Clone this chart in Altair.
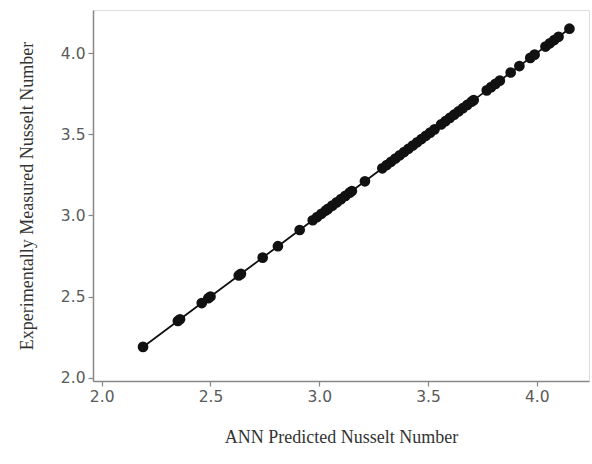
import altair as alt
import pandas as pd

ann_predicted = [2.19, 2.35, 2.36, 2.46, 2.49, 2.50, 2.63, 2.64, 2.74, 2.81,
                 2.91, 2.97, 2.99, 3.01, 3.03, 3.04, 3.06, 3.08, 3.10, 3.12,
                 3.14, 3.15, 3.21, 3.29, 3.31, 3.33, 3.35, 3.37, 3.39, 3.41,
                 3.43, 3.45, 3.47, 3.49, 3.51, 3.53, 3.56, 3.58, 3.60, 3.62,
                 3.64, 3.66, 3.68, 3.70, 3.71, 3.77, 3.79, 3.81, 3.83, 3.88,
                 3.92, 3.97, 3.99, 4.04, 4.06, 4.08, 4.10, 4.15]
measured = [2.19, 2.35, 2.36, 2.46, 2.49, 2.50, 2.63, 2.64, 2.74, 2.81,
            2.91, 2.97, 2.99, 3.01, 3.03, 3.04, 3.06, 3.08, 3.10, 3.12,
            3.14, 3.15, 3.21, 3.29, 3.31, 3.33, 3.35, 3.37, 3.39, 3.41,
            3.43, 3.45, 3.47, 3.49, 3.51, 3.53, 3.56, 3.58, 3.60, 3.62,
            3.64, 3.66, 3.68, 3.70, 3.71, 3.77, 3.79, 3.81, 3.83, 3.88,
            3.92, 3.97, 3.99, 4.04, 4.06, 4.08, 4.10, 4.15]
tick_values = [2.0, 2.5, 3.0, 3.5, 4.0]

df = pd.DataFrame({"pred": ann_predicted, "meas": measured})

common_axis = dict(values=tick_values, format=".1f", grid=False,
                   titleFont="Liberation Serif", titleFontSize=18,
                   titleFontWeight="normal", titleColor="#333333",
                   labelFont="DejaVu Sans", labelFontSize=15.5,
                   labelColor="#5a5a5a", domainColor="#888888",
                   tickColor="#888888", tickSize=5, labelPadding=3,
                   domainWidth=1.5, tickWidth=1.2)

x_enc = alt.X("pred:Q",
              scale=alt.Scale(domain=[1.96, 4.24], zero=False, nice=False),
              axis=alt.Axis(title="ANN Predicted Nusselt Number", titlePadding=24,
                            **common_axis))
y_enc = alt.Y("meas:Q",
              scale=alt.Scale(domain=[1.98, 4.265], zero=False, nice=False),
              axis=alt.Axis(title="Experimentally Measured Nusselt Number", titlePadding=24,
                            **common_axis))

line = alt.Chart(df).mark_line(color="#111111", strokeWidth=1.8).encode(
    x=x_enc, y=y_enc, order="pred:Q")
pts = alt.Chart(df).mark_circle(color="#111111", opacity=1, size=115).encode(
    x="pred:Q", y="meas:Q")

chart = (line + pts).properties(
    width=496, height=371,
    autosize=alt.AutoSizeParams(type="none"),
    padding={"left": 93, "top": 10, "right": 3, "bottom": 83},
).configure_view(stroke="#999999", strokeWidth=1.5).configure(background="white")

chart.save("out.html", embed_options={"renderer": "svg", "actions": False})
